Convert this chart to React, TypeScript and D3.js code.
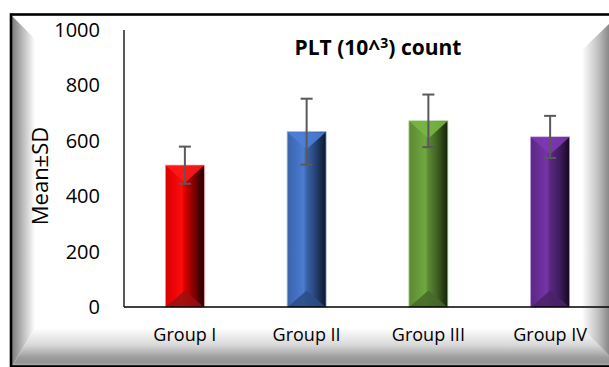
import React from "react";
import * as d3 from "d3";

const categories = ["Group I", "Group II", "Group III", "Group IV"];
const means = [512, 633, 672, 614];
const sds = [67, 119, 95, 76];
const yTicks = [0, 200, 400, 600, 800, 1000];
const titleMain = "PLT (10^";
const titleSup = "3";
const titleEnd = ") count";
const yLabel = "Mean±SD";

const palettes = [
  { left: "#d80000", mid: "#ff0a0a", dark: "#7a0000", edge: "#1a0000", top: "#ff1a1a", bottom: "#9a1010", stroke: "#ff9090" },
  { left: "#3a63ab", mid: "#4a7cd2", dark: "#243f70", edge: "#0a1628", top: "#4d80d8", bottom: "#2c4c84", stroke: "#9db8e8" },
  { left: "#5b8933", mid: "#70a840", dark: "#3c5c20", edge: "#142108", top: "#7ab546", bottom: "#46682a", stroke: "#b0d890" },
  { left: "#5a2882", mid: "#7634a8", dark: "#3e1c5c", edge: "#16061f", top: "#7c38b2", bottom: "#4a2268", stroke: "#b890d8" },
];

const W = 609;
const H = 367;
const plotLeft = 124;
const plotRight = 611;
const plotTop = 30;
const plotBottom = 307;

export default function App() {
  const x = d3.scaleBand<string>().domain(categories).range([plotLeft, plotRight]).paddingInner(0.68).paddingOuter(0.34);
  const y = d3.scaleLinear().domain([0, 1000]).range([plotBottom, plotTop]);
  const bw = x.bandwidth();
  const font = "'Open Sans', 'Liberation Sans', sans-serif";

  return (
    <svg width={W} height={H} style={{ position: "absolute", left: 0, top: 0, background: "#fff" }} fontFamily={font}>
      <defs>
        <linearGradient id="bevL" x1="0" x2="1" y1="0" y2="0">
          <stop offset="0" stopColor="#7c7c7c" />
          <stop offset="0.35" stopColor="#ababab" />
          <stop offset="1" stopColor="#ffffff" />
        </linearGradient>
        <linearGradient id="bevR" x1="0" x2="1" y1="0" y2="0">
          <stop offset="0" stopColor="#ffffff" />
          <stop offset="0.6" stopColor="#c0c0c0" />
          <stop offset="1" stopColor="#888888" />
        </linearGradient>
        <linearGradient id="bevB" x1="0" x2="0" y1="0" y2="1">
          <stop offset="0" stopColor="#ffffff" />
          <stop offset="0.45" stopColor="#d8d8d8" />
          <stop offset="0.78" stopColor="#9c9c9c" />
          <stop offset="0.92" stopColor="#949494" />
          <stop offset="1" stopColor="#b8b8b8" />
        </linearGradient>
        {palettes.map((p, i) => (
          <linearGradient key={i} id={`bar${i}`} x1="0" x2="1" y1="0" y2="0">
            <stop offset="0" stopColor={p.left} />
            <stop offset="0.42" stopColor={p.mid} />
            <stop offset="0.5" stopColor={p.left} />
            <stop offset="0.75" stopColor={p.dark} />
            <stop offset="1" stopColor={p.edge} />
          </linearGradient>
        ))}
      </defs>

      {/* chart area bevel frame */}
      <rect x={11} y={14.5} width={640} height={352} fill="#fff" />
      <polygon points="12,16 35,39 35,328 12,366" fill="url(#bevL)" />
      <polygon points="582,50 609,24 609,366 582,328" fill="url(#bevR)" />
      <polygon points="12,366 35,328 582,328 620,366" fill="url(#bevB)" />
      <rect x={11} y={14.5} width={640} height={352} fill="none" stroke="#000" strokeWidth={2.6} />

      {/* title */}
      <text x={378} y={55} textAnchor="middle" fontSize={21} fontWeight="bold" fill="#000">
        {titleMain}
        <tspan dy={-7} fontSize={14}>{titleSup}</tspan>
        <tspan dy={7}>{titleEnd}</tspan>
      </text>

      {/* y axis label */}
      <text transform={`translate(48,176) rotate(-90)`} textAnchor="middle" fontSize={22} fill="#000">
        {yLabel}
      </text>

      {/* y ticks */}
      {yTicks.map((t) => (
        <text key={t} x={100} y={y(t)} dy="0.35em" textAnchor="end" fontSize={20} fill="#000">
          {t}
        </text>
      ))}

      {/* bars */}
      {categories.map((c, i) => {
        const x0 = x(c)!;
        const x1 = x0 + bw;
        const cx = x0 + bw / 2;
        const top = y(means[i]);
        const base = y(0);
        const p = palettes[i];
        const tri = bw / 2;
        return (
          <g key={c}>
            <rect x={x0} y={top} width={bw} height={base - top} fill={`url(#bar${i})`} stroke={p.stroke} strokeWidth={0.8} />
            <polygon points={`${x0 + 0.5},${top + 0.5} ${x1 - 0.5},${top + 0.5} ${cx},${top + tri * 0.9}`} fill={p.top} opacity={0.9} />
            <polygon points={`${x0 + 0.5},${base} ${x1 - 0.5},${base} ${cx},${base - tri * 0.85}`} fill={p.bottom} opacity={0.85} />
          </g>
        );
      })}

      {/* error bars */}
      {categories.map((c, i) => {
        const cx = x(c)! + bw / 2;
        const hi = y(means[i] + sds[i]);
        const lo = y(means[i] - sds[i]);
        return (
          <g key={c} stroke="#595959" strokeWidth={2}>
            <line x1={cx} x2={cx} y1={hi} y2={lo} />
            <line x1={cx - 6} x2={cx + 6} y1={hi} y2={hi} />
            <line x1={cx - 6} x2={cx + 6} y1={lo} y2={lo} />
          </g>
        );
      })}

      {/* axes */}
      <line x1={plotLeft} x2={plotLeft} y1={plotTop} y2={plotBottom} stroke="#000" strokeWidth={1.3} />
      <line x1={plotLeft} x2={W} y1={plotBottom} y2={plotBottom} stroke="#000" strokeWidth={1.3} />

      {/* category labels */}
      {categories.map((c) => (
        <text key={c} x={x(c)! + bw / 2} y={341} textAnchor="middle" fontSize={18} fill="#000">
          {c}
        </text>
      ))}
    </svg>
  );
}
